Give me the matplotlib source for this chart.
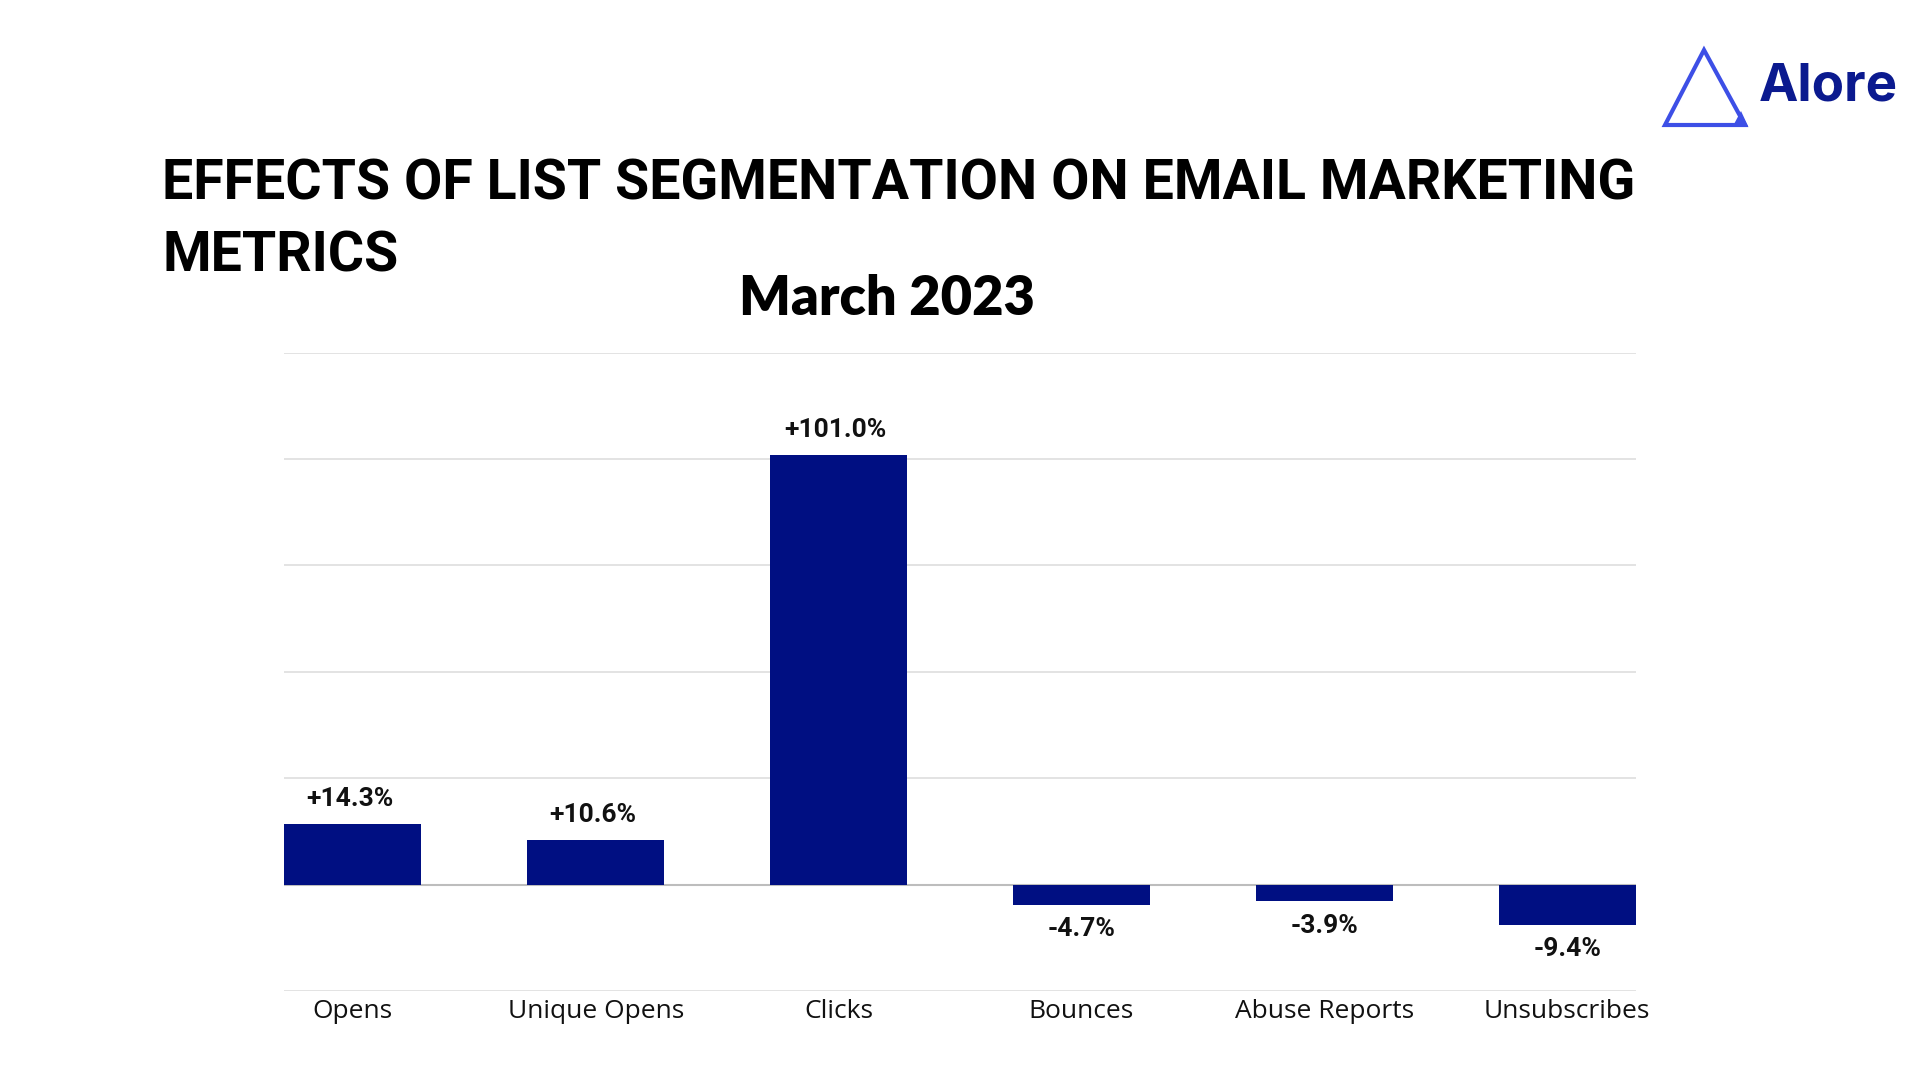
#!/usr/bin/env python3
"""Bar chart: effects of list segmentation on email marketing metrics."""

import matplotlib
matplotlib.use("Agg")
import matplotlib.pyplot as plt
from matplotlib.patches import Polygon

metrics = ["Opens", "Unique Opens", "Clicks", "Bounces", "Abuse Reports", "Unsubscribes"]
changes = [14.3, 10.6, 101.0, -4.7, -3.9, -9.4]
value_labels = ["+14.3%", "+10.6%", "+101.0%", "-4.7%", "-3.9%", "-9.4%"]
y_ticks = [-25, 0, 25, 50, 75, 100, 125]

BAR_COLOR = "#000F82"
GRID_COLOR = "#E0E0E0"


def main() -> int:
    fig = plt.figure(figsize=(19.2, 10.8), dpi=100)
    fig.patch.set_facecolor("white")

    ax = fig.add_axes([0.148, 0.0824, 0.704, 0.591])
    width = 0.565
    x = list(range(len(metrics)))
    ax.bar(x, changes, width=width, color=BAR_COLOR, zorder=3)

    ax.set_xlim(-width / 2, len(metrics) - 1 + width / 2)
    ax.set_ylim(y_ticks[0], y_ticks[-1])
    ax.set_yticks(y_ticks)
    ax.yaxis.grid(True, color=GRID_COLOR, linewidth=1.3, zorder=0)
    ax.axhline(0, color="#BDBDBD", linewidth=1.5, zorder=2)
    ax.tick_params(axis="y", left=False, labelleft=False)
    ax.tick_params(axis="x", bottom=False, pad=2)
    ax.set_xticks(x)
    ax.set_xticklabels(metrics, fontsize=19, family="Open Sans", color="#111111")
    for sp in ax.spines.values():
        sp.set_visible(False)

    # value labels above / below the bars
    for xi, v, lab in zip(x, changes, value_labels):
        if v >= 0:
            ax.annotate(lab, (xi, v), xytext=(-2, 9), textcoords="offset points",
                        ha="center", va="bottom", fontsize=19, fontweight="bold",
                        family="Roboto", color="#111111")
        else:
            ax.annotate(lab, (xi, v), xytext=(0, -9), textcoords="offset points",
                        ha="center", va="top", fontsize=19, fontweight="bold",
                        family="Roboto", color="#111111")

    # headline
    fig.text(162 / 1920, 1 - 185 / 1080, "EFFECTS OF LIST SEGMENTATION ON EMAIL MARKETING",
             fontsize=40, fontweight="bold", family="Roboto", va="center", ha="left",
             color="black")
    fig.text(162 / 1920, 1 - 257 / 1080, "METRICS",
             fontsize=40, fontweight="bold", family="Roboto", va="center", ha="left",
             color="black")
    fig.text(887 / 1920, 1 - 299 / 1080, "March 2023",
             fontsize=39, fontweight="heavy", family="Lato", va="center", ha="center",
             color="black")

    # logo
    tri = Polygon([(1704 / 1920, 1 - 50 / 1080), (1665 / 1920, 1 - 125 / 1080),
                   (1745 / 1920, 1 - 125 / 1080)], closed=True, fill=False,
                  edgecolor="#3D4FE6", linewidth=3, transform=fig.transFigure,
                  joinstyle="miter")
    fig.patches.append(tri)
    corner = Polygon([(1748 / 1920, 1 - 126 / 1080), (1733 / 1920, 1 - 126 / 1080),
                      (1741 / 1920, 1 - 111 / 1080)], closed=True, facecolor="#3D4FE6",
                     edgecolor="none", transform=fig.transFigure)
    fig.patches.append(corner)
    fig.text(1759 / 1920, 1 - 87 / 1080, "Alore", fontsize=38, fontweight="bold",
             family="Inter", color="#0B1A8F", va="center", ha="left")

    fig.savefig("out.png", dpi=100, facecolor="white")
    plt.close(fig)
    return 0


if __name__ == "__main__":
    raise SystemExit(main())
